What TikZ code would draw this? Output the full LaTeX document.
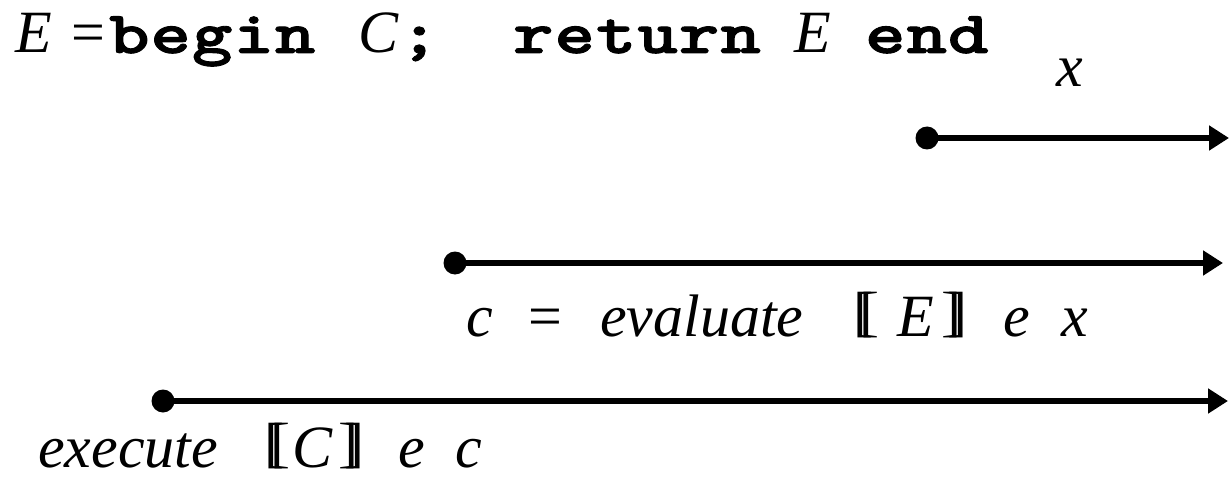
\documentclass[tikz,border=0pt]{standalone}
\usepackage{fontspec}
\setmainfont{Liberation Serif}
\newfontfamily\cmono{lmmonolt10-bold.otf}[FakeBold=1.5, LetterSpace=1.5]
\usetikzlibrary{arrows.meta}
\newcommand\dlb{\raisebox{0.1em}{\scalebox{1}[0.92]{\makebox[0pt][l]{[}\kern0.11em[}}}
\newcommand\drb{\raisebox{0.1em}{\scalebox{1}[0.92]{\makebox[0pt][l]{]}\kern0.11em]}}}
\newcommand\kw[1]{\scalebox{1.28}[1]{#1}}
\tikzset{
  txt/.style={inner sep=0pt, anchor=base west, font=\fontsize{60}{60}\selectfont},
  itx/.style={txt, font=\fontsize{60}{60}\selectfont\itshape},
  mono/.style={inner sep=0pt, anchor=base west, font=\fontsize{60}{60}\selectfont\cmono},
  dot/.style={circle, fill=black, inner sep=0pt, minimum size=23pt},
  arr/.style={line width=6.5pt, -{Triangle[length=20pt,width=24pt]}}
}
\begin{document}
\begin{tikzpicture}[x=1pt,y=-1pt]
\useasboundingbox (0,0) rectangle (1229,492);
% header
\node[itx] (hE) at (15,53) {E};
\node[txt] (heq) at (71,53) {=};
\node[mono] (hbegin) at (109,53) {\kw{begin}};
\node[itx] (hC) at (358,53) {C};
\node[mono] (hsemi) at (399,53) {\kw{;}};
\node[mono] (hreturn) at (513,53) {\kw{return}};
\node[itx] (hE2) at (794,53) {E};
\node[mono] (hend) at (865,53) {\kw{end}};
% x label
\node[itx] (lx) at (1056,87) {x};
% arrow 1
\node[dot] (d1) at (927,138) {};
\coordinate (e1) at (1229,138);
\draw[arr] (d1.center) -- (e1);
% arrow 2
\node[dot] (d2) at (455,263) {};
\coordinate (e2) at (1223,263);
\draw[arr] (d2.center) -- (e2);
% label 2
\node[itx] (l2c) at (466,336) {c};
\node[txt] (l2eq) at (528,336) {=};
\node[itx] (l2ev) at (600,336) {evaluate};
\node[txt] (l2lb) at (853,336) {\dlb};
\node[itx] (l2E) at (897,336) {E};
\node[txt] (l2rb) at (941,336) {\drb};
\node[itx] (l2e) at (1003,336) {e};
\node[itx] (l2x) at (1061,336) {x};
% arrow 3
\node[dot] (d3) at (163,401) {};
\coordinate (e3) at (1228,401);
\draw[arr] (d3.center) -- (e3);
% label 3
\node[itx] (l3ex) at (38,467) {execute};
\node[txt] (l3lb) at (264,467) {\dlb};
\node[itx] (l3C) at (292,467) {C};
\node[txt] (l3rb) at (338,467) {\drb};
\node[itx] (l3e) at (398,467) {e};
\node[itx] (l3c) at (455,467) {c};
\end{tikzpicture}
\end{document}
